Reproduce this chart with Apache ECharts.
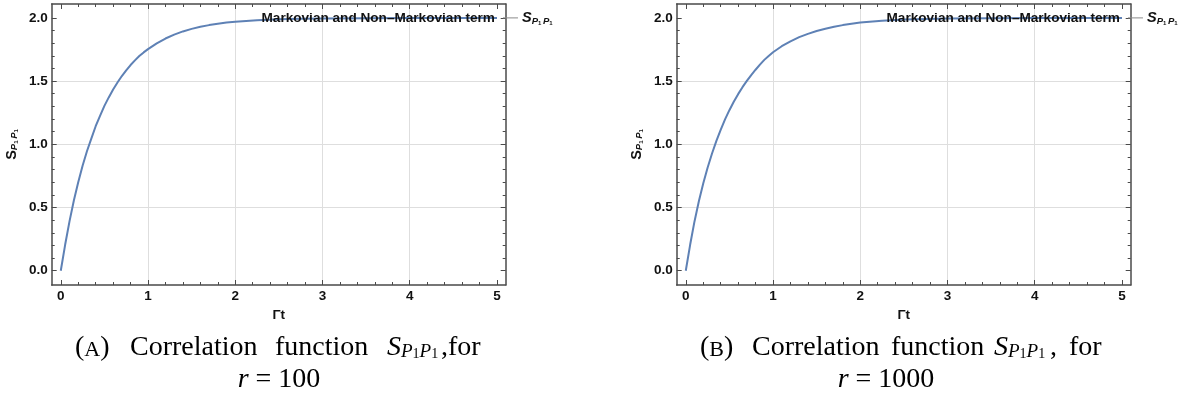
<!DOCTYPE html>
<html>
<head>
<meta charset="utf-8">
<script src="https://cdn.jsdelivr.net/npm/echarts@6/dist/echarts.min.js"></script>
<style>
  html, body { margin: 0; padding: 0; background: #ffffff; }
  #chart { width: 1188px; height: 396px; }
</style>
</head>
<body>
<div id="chart"></div>
<script>
// Dimensionless time Γt at which the correlation function is sampled
const gammaT = [0, 0.05, 0.1, 0.15, 0.2, 0.25, 0.3, 0.35, 0.4, 0.45, 0.5, 0.55, 0.6, 0.65, 0.7,
                0.75, 0.8, 0.85, 0.9, 0.95, 1.0, 1.1, 1.2, 1.3, 1.4, 1.5, 1.6, 1.7, 1.8, 1.9,
                2.0, 2.25, 2.5, 2.75, 3.0, 3.5, 4.0, 4.5, 5.0];
// S_{P1P1} for r = 100
const spR100 = [0, 0.205, 0.39, 0.555, 0.70, 0.83, 0.945, 1.045, 1.143, 1.225, 1.304, 1.371, 1.434,
                1.489, 1.540, 1.585, 1.627, 1.664, 1.698, 1.727, 1.753, 1.799, 1.837, 1.868, 1.893,
                1.913, 1.930, 1.943, 1.954, 1.963, 1.970, 1.982, 1.989, 1.993, 1.996, 1.998, 1.999,
                2.0, 2.0];
// S_{P1P1} for r = 1000
const spR1000 = [0, 0.205, 0.39, 0.55, 0.69, 0.815, 0.925, 1.025, 1.115, 1.197, 1.27, 1.337, 1.397,
                 1.452, 1.502, 1.548, 1.590, 1.630, 1.668, 1.699, 1.728, 1.776, 1.815, 1.848, 1.874,
                 1.896, 1.914, 1.930, 1.943, 1.954, 1.963, 1.978, 1.987, 1.992, 1.995, 1.998, 1.999,
                 2.0, 2.0];

// Frame ticks and grid lines
const xMajorTicks = [0, 1, 2, 3, 4, 5];
const xMinorTicks = [0.2, 0.4, 0.6, 0.8, 1.2, 1.4, 1.6, 1.8, 2.2, 2.4, 2.6, 2.8,
                     3.2, 3.4, 3.6, 3.8, 4.2, 4.4, 4.6, 4.8];
const xGridLines = [1, 2, 3, 4];
const yMajorTicks = [0, 0.5, 1.0, 1.5, 2.0];
const yMinorTicks = [0.1, 0.2, 0.3, 0.4, 0.6, 0.7, 0.8, 0.9, 1.1, 1.2, 1.3, 1.4,
                     1.6, 1.7, 1.8, 1.9];
const yGridLines = [0.5, 1.0, 1.5];

const curveLabel = 'Markovian and Non\u2013Markovian term';
const captionTags = ['A', 'B'];
const captionRatios = ['100', '1000'];

const X_MIN = -0.104, X_MAX = 5.1;
const Y_MIN = -0.113, Y_MAX = 2.11;

const FRAME = '#4a4a4a';
const GRIDC = '#dedede';
const CURVE = '#5e81b5';
const SANS = '"Liberation Sans", Arial, sans-serif';
const SERIF = '"Liberation Serif", "Times New Roman", serif';
const TICK_FONT = 13.5;

const panels = [
  { left: 51.7, data: spR100 },
  { left: 676.7, data: spR1000 }
];

const grids = panels.map(p => ({ left: p.left, top: 4, width: 454, height: 281 }));

const xAxes = [], yAxes = [];
const mainX = [], mainY = [];

function blankAxis(extra) {
  return Object.assign({
    type: 'value',
    splitLine: { show: false },
    axisLabel: { show: false },
    axisTick: { show: false },
    axisLine: { show: false, onZero: false }
  }, extra);
}

const subRich = {
  s: { fontFamily: SANS, fontWeight: 'bold', fontSize: 14.5, lineHeight: 16, verticalAlign: 'bottom', color: '#111' },
  si: { fontFamily: SANS, fontWeight: 'bold', fontStyle: 'italic', fontSize: 14.5, lineHeight: 16, verticalAlign: 'bottom', color: '#111' },
  p: { fontFamily: SANS, fontWeight: 'bold', fontStyle: 'italic', fontSize: 9.5, lineHeight: 10, verticalAlign: 'bottom', color: '#111' },
  o: { fontFamily: SANS, fontWeight: 'bold', fontSize: 6, lineHeight: 5, verticalAlign: 'bottom', color: '#111' },
  g: { fontFamily: SANS, fontSize: 6, lineHeight: 10, verticalAlign: 'bottom', color: '#111' }
};

panels.forEach((p, g) => {
  const xr = { gridIndex: g, min: X_MIN, max: X_MAX };
  const yr = { gridIndex: g, min: Y_MIN, max: Y_MAX };
  // bottom: labels, major ticks, frame edge
  mainX.push(xAxes.length);
  xAxes.push(blankAxis(Object.assign({}, xr, {
    position: 'bottom',
    name: 'Γt',
    nameLocation: 'middle',
    nameGap: 22,
    nameTextStyle: { fontFamily: SANS, fontWeight: 'bold', fontSize: TICK_FONT, color: '#111' },
    axisLine: { show: true, onZero: false, lineStyle: { color: FRAME, width: 1.5 } },
    axisTick: { show: true, inside: true, length: 5, customValues: xMajorTicks, lineStyle: { color: FRAME, width: 1 } },
    axisLabel: { show: true, customValues: xMajorTicks, margin: 4, formatter: v => String(Math.round(v)),
                 fontFamily: SANS, fontWeight: 'bold', fontSize: TICK_FONT, color: '#111' }
  })));
  xAxes.push(blankAxis(Object.assign({}, xr, {
    position: 'bottom',
    axisTick: { show: true, inside: true, length: 3, customValues: xMinorTicks, lineStyle: { color: FRAME, width: 1 } }
  })));
  // top edge of the frame
  xAxes.push(blankAxis(Object.assign({}, xr, {
    position: 'top',
    axisLine: { show: true, onZero: false, lineStyle: { color: FRAME, width: 1.5 } },
    axisTick: { show: true, inside: true, length: 5, customValues: xMajorTicks, lineStyle: { color: FRAME, width: 1 } }
  })));
  xAxes.push(blankAxis(Object.assign({}, xr, {
    position: 'top',
    axisTick: { show: true, inside: true, length: 3, customValues: xMinorTicks, lineStyle: { color: FRAME, width: 1 } }
  })));
  // vertical grid lines
  xAxes.push(blankAxis(Object.assign({}, xr, {
    position: 'bottom',
    axisTick: { show: false, customValues: xGridLines },
    splitLine: { show: true, lineStyle: { color: GRIDC, width: 1 } }
  })));

  // left: labels, major ticks, frame edge
  mainY.push(yAxes.length);
  yAxes.push(blankAxis(Object.assign({}, yr, {
    position: 'left',
    name: '{s|S}{p|P}{o|1}{g| }{p|P}{o|1}',
    nameLocation: 'middle',
    nameRotate: 90,
    nameGap: 32,
    nameTextStyle: { rich: subRich },
    axisLine: { show: true, onZero: false, lineStyle: { color: FRAME, width: 1.5 } },
    axisTick: { show: true, inside: true, length: 5, customValues: yMajorTicks, lineStyle: { color: FRAME, width: 1 } },
    axisLabel: { show: true, customValues: yMajorTicks, margin: 4, formatter: v => v.toFixed(1),
                 fontFamily: SANS, fontWeight: 'bold', fontSize: TICK_FONT, color: '#111' }
  })));
  yAxes.push(blankAxis(Object.assign({}, yr, {
    position: 'left',
    axisTick: { show: true, inside: true, length: 3, customValues: yMinorTicks, lineStyle: { color: FRAME, width: 1 } }
  })));
  // right edge of the frame
  yAxes.push(blankAxis(Object.assign({}, yr, {
    position: 'right',
    axisLine: { show: true, onZero: false, lineStyle: { color: FRAME, width: 1.5 } },
    axisTick: { show: true, inside: true, length: 5, customValues: yMajorTicks, lineStyle: { color: FRAME, width: 1 } }
  })));
  yAxes.push(blankAxis(Object.assign({}, yr, {
    position: 'right',
    axisTick: { show: true, inside: true, length: 3, customValues: yMinorTicks, lineStyle: { color: FRAME, width: 1 } }
  })));
  // horizontal grid lines
  yAxes.push(blankAxis(Object.assign({}, yr, {
    position: 'left',
    axisTick: { show: false, customValues: yGridLines },
    splitLine: { show: true, lineStyle: { color: GRIDC, width: 1 } }
  })));
});

const series = panels.map((p, g) => ({
  type: 'line',
  xAxisIndex: mainX[g],
  yAxisIndex: mainY[g],
  showSymbol: true,
  symbol: 'circle',
  symbolSize: 0.1,
  smooth: false,
  lineStyle: { color: CURVE, width: 2 },
  itemStyle: { color: CURVE },
  data: gammaT.map((t, i) => {
    const item = { value: [t, p.data[i]] };
    if (i === gammaT.length - 1) {
      item.label = {
        show: true, position: 'left', distance: 2,
        formatter: curveLabel,
        fontFamily: SANS, fontWeight: 'bold', fontSize: 13.6, color: '#111'
      };
    }
    return item;
  }),
  endLabel: {
    show: true,
    distance: 25,
    formatter: '{si|S}{p|P}{o|1}{g| }{p|P}{o|1}',
    rich: subRich
  },
  z: 3
}));

// Sub-figure captions, set in a serif face below each panel
const capRich = {
  it: { fontFamily: SERIF, fontStyle: 'italic', fontSize: 28, lineHeight: 30, verticalAlign: 'bottom', color: '#111' },
  sp: { fontFamily: SERIF, fontStyle: 'italic', fontSize: 19, lineHeight: 16, verticalAlign: 'bottom', color: '#111' },
  so: { fontFamily: SERIF, fontSize: 14, lineHeight: 6, verticalAlign: 'bottom', color: '#111' },
  rm: { fontFamily: SERIF, fontSize: 28, lineHeight: 30, verticalAlign: 'bottom', color: '#111' },
  sc: { fontFamily: SERIF, fontSize: 22, lineHeight: 28, verticalAlign: 'bottom', color: '#111' }
};
const captionWords = [
  [[75, '{rm|(}{sc|' + captionTags[0] + '}{rm|)}'], [130, '{rm|Correlation}'], [275, '{rm|function}'],
   [387, '{it|S}{sp|P}{so|1}{sp|P}{so|1}'], [441, '{rm|,for}']],
  [[700, '{rm|(}{sc|' + captionTags[1] + '}{rm|)}'], [752, '{rm|Correlation}'], [891, '{rm|function}'],
   [994, '{it|S}{sp|P}{so|1}{sp|P}{so|1}'], [1050, '{rm|,}'], [1069, '{rm|for}']]
];
const captionLine2X = [279, 886];

const graphics = [];
captionWords.forEach((words, k) => {
  words.forEach(([x, txt]) => {
    graphics.push({
      type: 'text', x: x, y: 346.5,
      style: { text: txt, rich: capRich, align: 'left', verticalAlign: 'middle' }
    });
  });
  graphics.push({
    type: 'text', x: captionLine2X[k], y: 378.5,
    style: { text: '{it|r}{rm| = ' + captionRatios[k] + '}', rich: capRich, align: 'center', verticalAlign: 'middle' }
  });
});

const chart = echarts.init(document.getElementById('chart'), null, { renderer: 'canvas' });
chart.setOption({
  animation: false,
  backgroundColor: '#ffffff',
  grid: grids,
  xAxis: xAxes,
  yAxis: yAxes,
  series: series,
  graphic: graphics
});

// Short connector between each curve's end and its legend label
const connectors = panels.map((p, g) => {
  const last = gammaT.length - 1;
  const pt = chart.convertToPixel({ xAxisIndex: mainX[g], yAxisIndex: mainY[g] }, [gammaT[last], p.data[last]]);
  return {
    type: 'line',
    shape: { x1: pt[0] + 6, y1: pt[1], x2: pt[0] + 21, y2: pt[1] },
    style: { stroke: '#8a8a8a', lineWidth: 1 },
    z: 10
  };
});
chart.setOption({ graphic: graphics.concat(connectors) });
</script>
</body>
</html>
